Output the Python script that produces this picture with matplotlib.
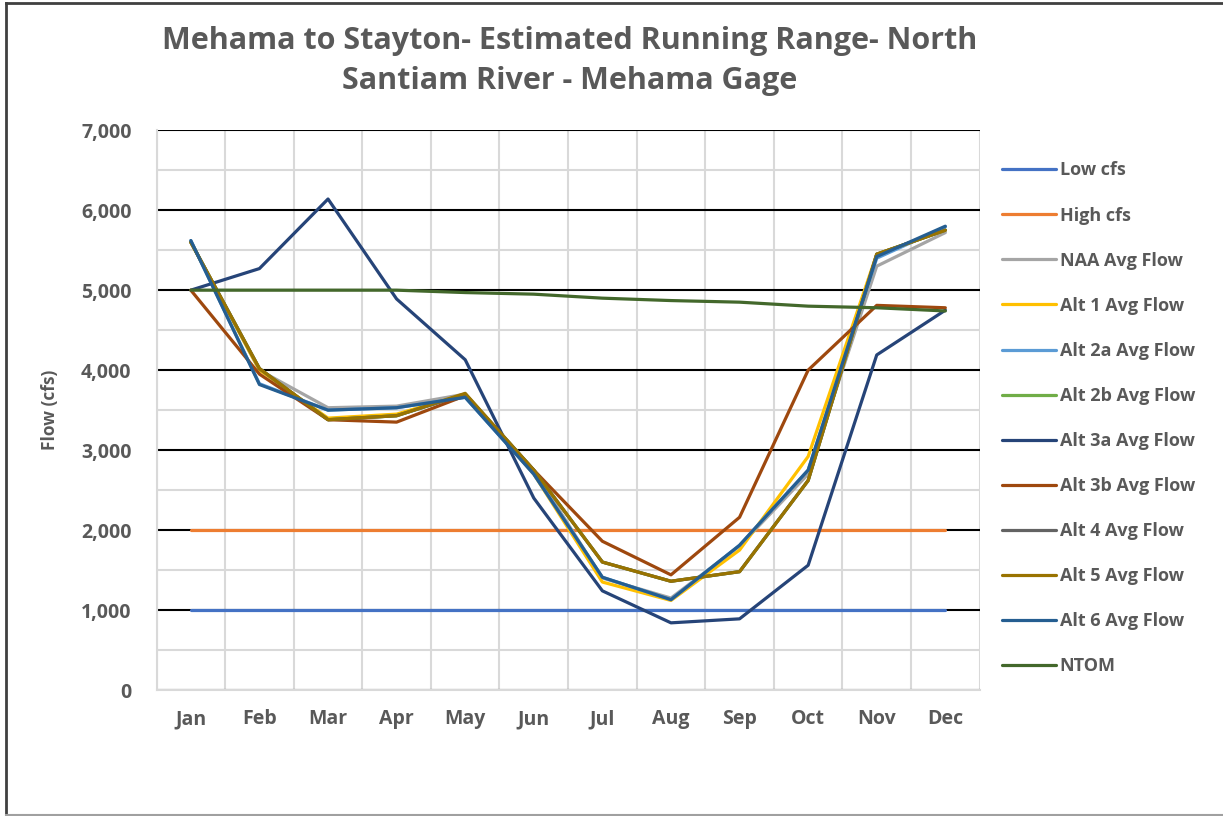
import matplotlib.pyplot as plt
from matplotlib.ticker import MultipleLocator, FuncFormatter
from matplotlib.lines import Line2D

plt.rcParams['font.family'] = ['Open Sans', 'DejaVu Sans']

months = ['Jan', 'Feb', 'Mar', 'Apr', 'May', 'Jun', 'Jul', 'Aug', 'Sep', 'Oct', 'Nov', 'Dec']

low_cfs = [1000] * 12
high_cfs = [2000] * 12
naa = [5600, 4000, 3530, 3550, 3700, 2750, 1400, 1150, 1800, 2700, 5300, 5720]
alt1 = [5600, 4000, 3400, 3450, 3700, 2700, 1350, 1120, 1750, 2920, 5450, 5750]
alt2a = [5620, 3830, 3500, 3530, 3660, 2700, 1410, 1130, 1810, 2750, 5400, 5790]
alt2b = [5600, 4020, 3380, 3430, 3700, 2750, 1600, 1360, 1480, 2620, 5450, 5750]
alt3a = [5000, 5270, 6140, 4890, 4130, 2400, 1240, 840, 890, 1560, 4190, 4750]
alt3b = [5000, 3950, 3380, 3350, 3680, 2750, 1860, 1440, 2160, 4000, 4810, 4780]
alt4 = [5600, 4020, 3380, 3430, 3700, 2750, 1600, 1360, 1480, 2620, 5450, 5750]
alt5 = [5600, 4020, 3380, 3430, 3710, 2750, 1600, 1360, 1480, 2620, 5450, 5750]
alt6 = [5620, 3820, 3500, 3530, 3660, 2700, 1410, 1130, 1810, 2750, 5420, 5800]
ntom = [5000, 5000, 5000, 5000, 4970, 4950, 4900, 4870, 4850, 4800, 4780, 4740]

series = [
    ('Low cfs', low_cfs, '#4472C4'),
    ('High cfs', high_cfs, '#ED7D31'),
    ('NAA Avg Flow', naa, '#A5A5A5'),
    ('Alt 1 Avg Flow', alt1, '#FFC000'),
    ('Alt 2a Avg Flow', alt2a, '#5B9BD5'),
    ('Alt 2b Avg Flow', alt2b, '#70AD47'),
    ('Alt 3a Avg Flow', alt3a, '#264478'),
    ('Alt 3b Avg Flow', alt3b, '#9E480E'),
    ('Alt 4 Avg Flow', alt4, '#636363'),
    ('Alt 5 Avg Flow', alt5, '#997300'),
    ('Alt 6 Avg Flow', alt6, '#255E91'),
    ('NTOM', ntom, '#43682B'),
]

txt = '#595959'
fig = plt.figure(figsize=(12.23, 8.16), dpi=100)
ax = fig.add_axes([0.128, 0.1544, 0.673, 0.686])

x = list(range(len(months)))
for name, vals, col in series:
    ax.plot(x, vals, color=col, lw=2.3, label=name, solid_capstyle='round')

ax.set_xlim(-0.5, 11.5)
ax.set_ylim(0, 7000)
ax.yaxis.set_major_locator(MultipleLocator(1000))
ax.yaxis.set_minor_locator(MultipleLocator(500))
ax.set_xticks(x)
ax.set_xticklabels(months)
ax.set_xticks([i + 0.5 for i in range(-1, 12)], minor=True)
ax.yaxis.set_major_formatter(FuncFormatter(lambda v, p: f'{int(v):,}'))

ax.grid(which='minor', color='#D9D9D9', lw=1.5, zorder=0)
ax.grid(which='major', axis='y', color='black', lw=1.5, zorder=0)
ax.set_axisbelow(True)
ax.tick_params(which='both', length=0)
ax.tick_params(axis='x', pad=14, labelsize=14, labelcolor=txt)
ax.tick_params(axis='y', pad=18, labelsize=14, labelcolor=txt)
for lab in ax.get_xticklabels() + ax.get_yticklabels():
    lab.set_fontweight('bold')
for s in ['top', 'right']:
    ax.spines[s].set_visible(False)
ax.spines['left'].set_color('#D9D9D9')
ax.spines['bottom'].set_color('#D9D9D9')
ax.spines['left'].set_linewidth(1.5)
ax.spines['bottom'].set_linewidth(1.5)

ax.set_ylabel('Flow (cfs)', fontsize=12.5, fontweight='bold', color=txt, labelpad=16)

fig.suptitle('Mehama to Stayton- Estimated Running Range- North\nSantiam River - Mehama Gage',
             x=0.466, y=0.968, fontsize=22, fontweight='bold', color=txt, linespacing=1.45)

leg = fig.legend(loc='upper left', bbox_to_anchor=(0.806, 0.822), frameon=False,
                 handlelength=3.0, handletextpad=0.2, labelspacing=1.5,
                 labelcolor=txt, prop={'weight': 'bold', 'size': 13})

# figure border
fig.add_artist(Line2D([0.005, 0.005], [0, 0.996], transform=fig.transFigure, color='#404040', lw=2))
fig.add_artist(Line2D([0.005, 1], [0.996, 0.996], transform=fig.transFigure, color='#404040', lw=2))
fig.add_artist(Line2D([0.005, 1], [0.001, 0.001], transform=fig.transFigure, color='#A0A0A0', lw=1.5))

fig.savefig('out.png', dpi=100)
